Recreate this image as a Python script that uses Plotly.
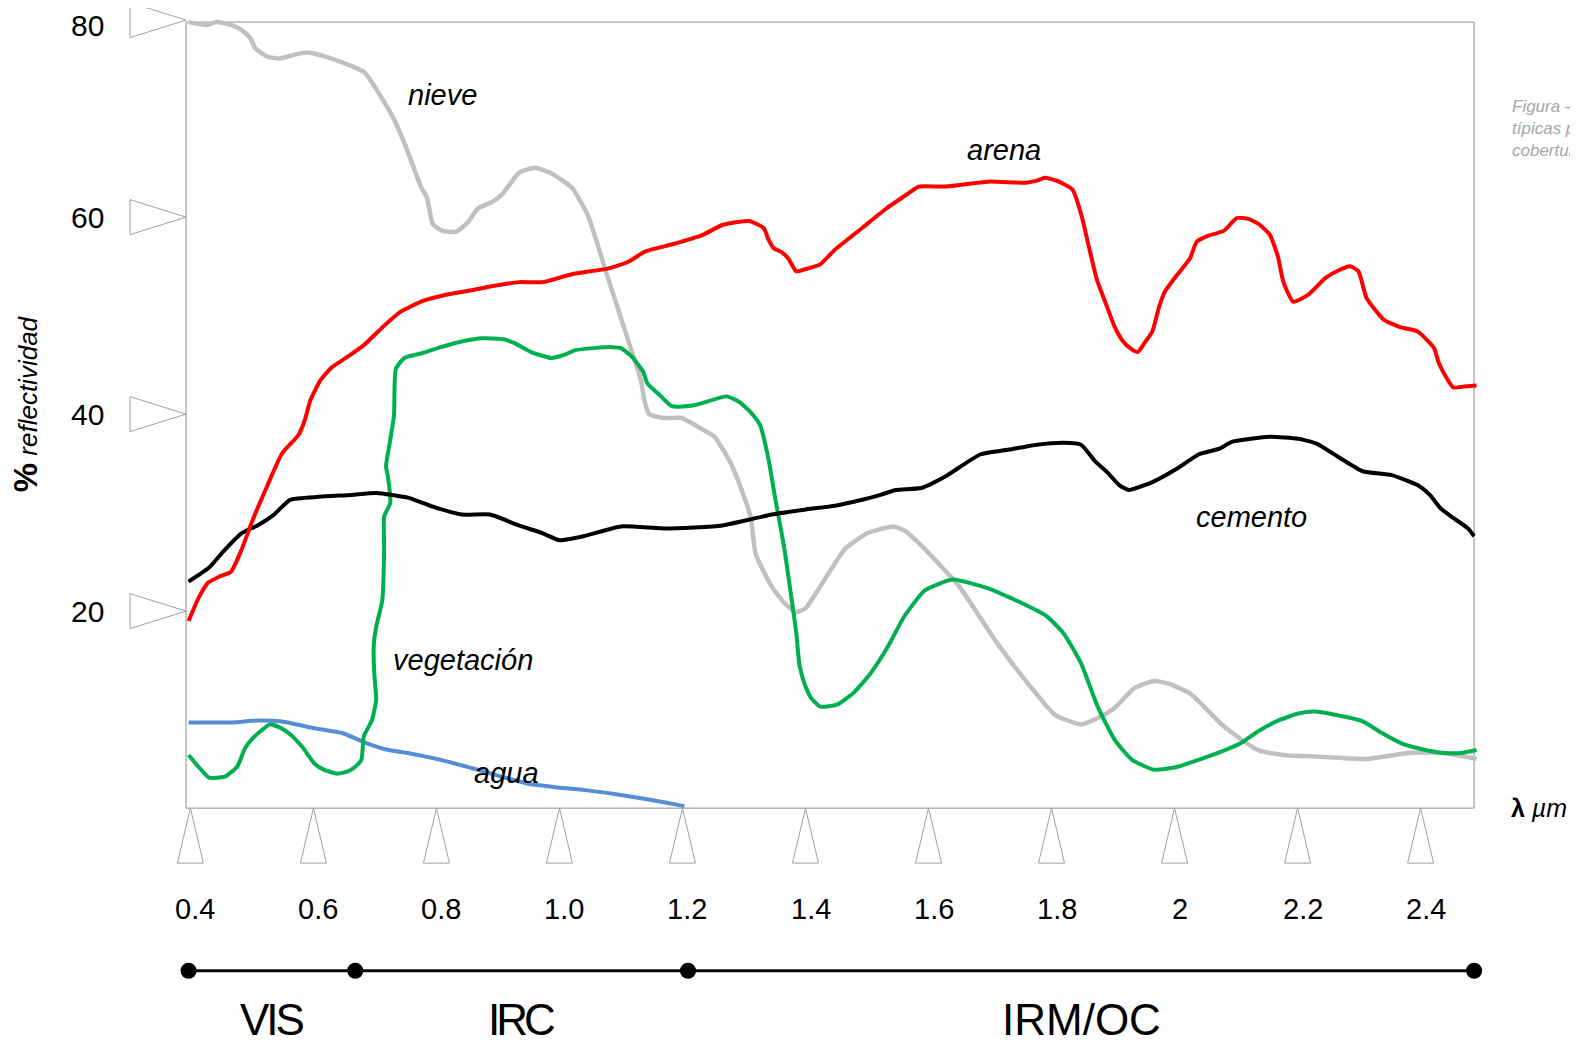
import plotly.graph_objects as go

# ---------------- data ----------------
nieve_wl = [0.397, 0.426, 0.442, 0.467, 0.483, 0.497, 0.506, 0.525, 0.545, 0.570,
            0.589, 0.614, 0.655, 0.683, 0.709, 0.732, 0.753, 0.774, 0.785, 0.794,
            0.810, 0.831, 0.850, 0.868, 0.892, 0.907, 0.934, 0.960, 0.985, 1.020,
            1.046, 1.080, 1.107, 1.133, 1.138, 1.146, 1.170, 1.199, 1.228, 1.252,
            1.277, 1.298, 1.311, 1.319, 1.345, 1.366, 1.385, 1.400, 1.424, 1.464,
            1.500, 1.543, 1.563, 1.594, 1.650, 1.711, 1.765, 1.805, 1.848, 1.877,
            1.903, 1.935, 1.967, 1.992, 2.026, 2.080, 2.135, 2.177, 2.245, 2.312,
            2.381, 2.437, 2.491]
nieve_ref = [79.8, 79.5, 79.8, 79.5, 79.0, 78.2, 77.1, 76.3, 76.1, 76.5,
             76.7, 76.4, 75.5, 74.7, 72.3, 69.8, 66.7, 63.2, 61.9, 59.3,
             58.6, 58.5, 59.4, 60.9, 61.6, 62.3, 64.5, 65.0, 64.5, 63.0,
             60.2, 53.6, 48.4, 43.3, 41.4, 40.0, 39.6, 39.6, 38.6, 37.7,
             35.2, 32.0, 29.5, 25.8, 22.5, 20.8, 19.9, 20.3, 22.5, 26.3,
             27.9, 28.6, 28.1, 26.3, 22.5, 16.8, 12.4, 9.5, 8.5, 9.2,
             10.2, 12.2, 12.9, 12.6, 11.6, 8.3, 5.9, 5.4, 5.2, 5.0,
             5.6, 5.6, 5.0]

arena_wl = [0.397, 0.413, 0.429, 0.447, 0.466, 0.483, 0.499, 0.522, 0.549, 0.576,
            0.586, 0.595, 0.611, 0.629, 0.655, 0.682, 0.712, 0.742, 0.778, 0.814,
            0.859, 0.892, 0.934, 0.973, 1.020, 1.080, 1.113, 1.139, 1.187, 1.233,
            1.265, 1.308, 1.332, 1.340, 1.349, 1.360, 1.372, 1.385, 1.399, 1.424,
            1.448, 1.492, 1.532, 1.567, 1.584, 1.628, 1.697, 1.759, 1.776, 1.789,
            1.808, 1.834, 1.849, 1.861, 1.874, 1.889, 1.903, 1.916, 1.930, 1.940,
            1.952, 1.964, 1.975, 1.984, 2.005, 2.025, 2.036, 2.054, 2.080, 2.101,
            2.121, 2.139, 2.155, 2.168, 2.177, 2.193, 2.217, 2.245, 2.267, 2.286,
            2.299, 2.312, 2.340, 2.368, 2.395, 2.422, 2.429, 2.442, 2.453, 2.471, 2.491]
arena_ref = [19.0, 21.3, 22.9, 23.5, 24.0, 26.2, 28.9, 32.3, 36.0, 37.9,
             39.4, 41.4, 43.4, 44.7, 45.8, 47.0, 48.8, 50.4, 51.5, 52.1,
             52.6, 53.0, 53.4, 53.4, 54.2, 54.8, 55.5, 56.5, 57.3, 58.2,
             59.2, 59.6, 58.9, 57.7, 56.8, 56.5, 55.8, 54.5, 54.7, 55.2,
             56.7, 58.9, 60.9, 62.4, 63.1, 63.1, 63.6, 63.5, 63.7, 64.0,
             63.7, 62.8, 60.1, 56.9, 53.6, 51.1, 48.8, 47.4, 46.6, 46.3,
             47.3, 48.4, 50.9, 52.4, 54.2, 55.8, 57.5, 58.1, 58.6, 59.9,
             59.8, 59.2, 58.2, 56.0, 53.4, 51.4, 52.1, 53.8, 54.6, 55.0,
             54.5, 51.8, 49.6, 48.8, 48.4, 46.7, 45.3, 43.7, 42.7, 42.8, 42.9]

cemento_wl = [0.397, 0.430, 0.454, 0.483, 0.509, 0.536, 0.562, 0.609, 0.662, 0.702,
              0.755, 0.794, 0.841, 0.887, 0.934, 0.973, 1.000, 1.039, 1.100, 1.166,
              1.219, 1.265, 1.309, 1.345, 1.398, 1.448, 1.492, 1.522, 1.547, 1.588,
              1.628, 1.684, 1.731, 1.776, 1.820, 1.848, 1.871, 1.889, 1.910, 1.926,
              1.964, 2.005, 2.039, 2.073, 2.094, 2.155, 2.201, 2.231, 2.265, 2.306,
              2.353, 2.395, 2.415, 2.433, 2.450, 2.477, 2.487]
cemento_ref = [23.0, 24.4, 26.1, 27.9, 28.7, 29.8, 31.3, 31.6, 31.8, 32.0,
               31.5, 30.6, 29.8, 29.8, 28.7, 27.9, 27.2, 27.6, 28.6, 28.4,
               28.5, 28.7, 29.3, 29.8, 30.3, 30.7, 31.3, 31.8, 32.3, 32.5,
               33.7, 35.9, 36.4, 36.9, 37.1, 36.9, 35.2, 34.2, 32.8, 32.3,
               33.1, 34.5, 35.9, 36.5, 37.2, 37.7, 37.5, 37.0, 35.7, 34.2,
               33.8, 32.8, 31.8, 30.4, 29.6, 28.4, 27.6]

veg_wl = [0.397, 0.413, 0.430, 0.456, 0.476, 0.489, 0.503, 0.516, 0.529, 0.545,
          0.562, 0.582, 0.602, 0.617, 0.639, 0.655, 0.668, 0.678, 0.682, 0.695,
          0.702, 0.699, 0.698, 0.702, 0.712, 0.715, 0.715, 0.725, 0.721, 0.718,
          0.725, 0.731, 0.734, 0.748, 0.778, 0.807, 0.843, 0.874, 0.909, 0.927,
          0.954, 0.987, 1.007, 1.026, 1.056, 1.086, 1.100, 1.118, 1.136, 1.143,
          1.162, 1.183, 1.219, 1.272, 1.293, 1.312, 1.326, 1.339, 1.352, 1.365,
          1.375, 1.385, 1.390, 1.398, 1.409, 1.424, 1.451, 1.478, 1.506, 1.534,
          1.560, 1.594, 1.639, 1.697, 1.759, 1.792, 1.820, 1.848, 1.875, 1.903,
          1.931, 1.967, 2.005, 2.039, 2.075, 2.108, 2.136, 2.169, 2.201, 2.227,
          2.267, 2.306, 2.335, 2.368, 2.401, 2.437, 2.466, 2.491]
veg_ref = [5.4, 4.2, 3.1, 3.2, 4.2, 6.1, 7.2, 7.9, 8.5, 8.2,
           7.5, 6.2, 4.5, 3.9, 3.5, 3.7, 4.2, 4.9, 7.3, 8.9,
           11.0, 13.6, 16.4, 18.4, 21.1, 26.2, 29.6, 31.0, 33.7, 34.7,
           37.4, 39.9, 44.6, 45.7, 46.2, 46.8, 47.4, 47.7, 47.6, 47.2,
           46.3, 45.7, 46.0, 46.5, 46.7, 46.8, 46.7, 45.8, 44.3, 43.1,
           42.0, 40.8, 40.9, 41.8, 41.2, 40.1, 38.9, 35.7, 31.0, 26.6,
           22.3, 17.8, 14.6, 12.7, 11.2, 10.3, 10.5, 11.7, 13.7, 16.4,
           19.4, 22.1, 23.2, 22.3, 20.6, 19.5, 17.7, 14.7, 10.3, 6.9,
           4.9, 3.9, 4.2, 4.9, 5.7, 6.6, 7.8, 8.9, 9.6, 9.8,
           9.4, 8.8, 7.7, 6.6, 6.0, 5.6, 5.6, 5.9]

agua_wl = [0.397, 0.469, 0.509, 0.549, 0.602, 0.648, 0.682, 0.715, 0.761, 0.807,
           0.861, 0.900, 0.947, 0.997, 1.046, 1.092, 1.133, 1.170, 1.203]
agua_ref = [8.7, 8.7, 8.9, 8.8, 8.1, 7.6, 6.7, 6.0, 5.5, 4.9,
            4.0, 3.3, 2.5, 2.1, 1.8, 1.4, 1.0, 0.6, 0.2]

x_ticks = [0.4, 0.6, 0.8, 1.0, 1.2, 1.4, 1.6, 1.8, 2.0, 2.2, 2.4]
x_tick_labels = ["0.4", "0.6", "0.8", "1.0", "1.2", "1.4", "1.6", "1.8", "2", "2.2", "2.4"]
y_ticks = [20, 40, 60, 80]
y_tick_labels = ["20", "40", "60", "80"]

region_bounds = [0.397, 0.668, 1.209, 2.487]
region_names = ["VIS", "IRC", "IRM/OC"]

# ---------------- layout constants ----------------
# the page body adds an 8px margin, so the figure is 8px smaller than the window
FIG_W, FIG_H = 1570, 1037
PX_X = 615.1          # pixels per micrometre
PX_Y = 9.85           # pixels per % reflectance
X_RANGE = [0.10346, 2.65590]
Y_RANGE = [-24.05, 81.23]
X_LEFT, X_RIGHT = 0.3929, 2.4869
Y_TOP = 79.8

FONT = "Liberation Sans, Arial, sans-serif"
GRAY = "#a6a6a6"

fig = go.Figure()

series = [
    (nieve_wl, nieve_ref, "#c0c0c0", 4.5),
    (agua_wl, agua_ref, "#558ed5", 4),
    (veg_wl, veg_ref, "#00b050", 4),
    (cemento_wl, cemento_ref, "#000000", 4),
    (arena_wl, arena_ref, "#ff0000", 4),
]
for wl, ref, col, w in series:
    fig.add_trace(go.Scatter(x=wl, y=ref, mode="lines",
                             line=dict(color=col, width=w, shape="spline", smoothing=0.5),
                             hoverinfo="skip"))

# region timeline
TL_Y = -16.51
fig.add_trace(go.Scatter(x=region_bounds, y=[TL_Y] * len(region_bounds),
                         mode="lines+markers",
                         line=dict(color="black", width=3),
                         marker=dict(color="black", size=16),
                         hoverinfo="skip"))

shapes = []
shapes.append(dict(type="rect", xref="x", yref="y", x0=X_LEFT, x1=X_RIGHT, y0=0, y1=Y_TOP,
                   line=dict(color="#8c8c8c", width=1), layer="below"))
tri_w = 13 / PX_X
tri_h = 55 / PX_Y
for t in x_ticks:
    shapes.append(dict(type="path", xref="x", yref="y",
                       path=f"M {t},0 L {t - tri_w},{-tri_h} L {t + tri_w},{-tri_h} Z",
                       line=dict(color="#a0a0a0", width=1), fillcolor="white"))
ytri_len = 56 / PX_X
ytri_h = 17.5 / PX_Y
for t in y_ticks:
    shapes.append(dict(type="path", xref="x", yref="y",
                       path=f"M {X_LEFT},{t} L {X_LEFT - ytri_len},{t + ytri_h} L {X_LEFT - ytri_len},{t - ytri_h} Z",
                       line=dict(color="#a0a0a0", width=1), fillcolor="white"))

ann = []
for t, lab in zip(x_ticks, x_tick_labels):
    ann.append(dict(x=t, y=-10.23, xref="x", yref="y", text=lab, showarrow=False,
                    xshift=5, xanchor="center", yanchor="middle",
                    font=dict(family=FONT, size=29, color="black")))
for t, lab in zip(y_ticks, y_tick_labels):
    top = t >= Y_TOP
    ann.append(dict(x=0.2612, y=Y_RANGE[1] if top else t, xref="x", yref="y", text=lab,
                    showarrow=False, xanchor="right", yanchor="top" if top else "middle",
                    borderpad=0,
                    font=dict(family=FONT, size=30, color="black")))
# region labels: tightly spaced, as in the original
region_spacing = ["-3px", "-4px", "0px"]
for i, name in enumerate(region_names):
    mid = (region_bounds[i] + region_bounds[i + 1]) / 2
    ann.append(dict(x=mid, y=Y_RANGE[0], xref="x", yref="y",
                    text=f"<span style='letter-spacing:{region_spacing[i]}'>{name}</span>",
                    showarrow=False, xanchor="center", yanchor="bottom", borderpad=0,
                    font=dict(family=FONT, size=44, color="black")))
curve_labels = [("nieve", 0.8103, 72.44), ("arena", 1.7234, 66.81), ("cemento", 2.1257, 29.52),
                ("vegetación", 0.8430, 15.02), ("agua", 0.9134, 3.57)]
for name, lx, ly in curve_labels:
    ann.append(dict(x=lx, y=ly, xref="x", yref="y", text=f"<i>{name}</i>", showarrow=False,
                    xanchor="center", yanchor="middle",
                    font=dict(family=FONT, size=29, color="black")))
ann.append(dict(x=0.1311, y=41.0, xref="x", yref="y", textangle=-90, showarrow=False,
                text="<b><span style='font-size:33px'>%</span></b> <i>reflectividad</i>",
                xanchor="center", yanchor="middle",
                font=dict(family=FONT, size=26, color="black")))
ann.append(dict(x=2.5437, y=0.0, xref="x", yref="y", showarrow=False,
                text="<b>λ</b> <i>µm</i>", xanchor="left", yanchor="middle",
                font=dict(family=FONT, size=25, color="black")))
ann.append(dict(x=2.5502, y=72.29, xref="x", yref="y", showarrow=False,
                text="<i>Figura –<br>típicas p<br>cobertur</i>", align="left",
                xanchor="left", yanchor="top", borderpad=0, xshift=-2,
                font=dict(family=FONT, size=17, color=GRAY)))

fig.update_layout(
    width=FIG_W, height=FIG_H,
    margin=dict(l=0, r=0, t=0, b=0, pad=0),
    paper_bgcolor="white", plot_bgcolor="white",
    showlegend=False,
    xaxis=dict(range=X_RANGE, visible=False, fixedrange=True),
    yaxis=dict(range=Y_RANGE, visible=False, fixedrange=True),
    shapes=shapes, annotations=ann,
)

fig.write_html("out.html")
